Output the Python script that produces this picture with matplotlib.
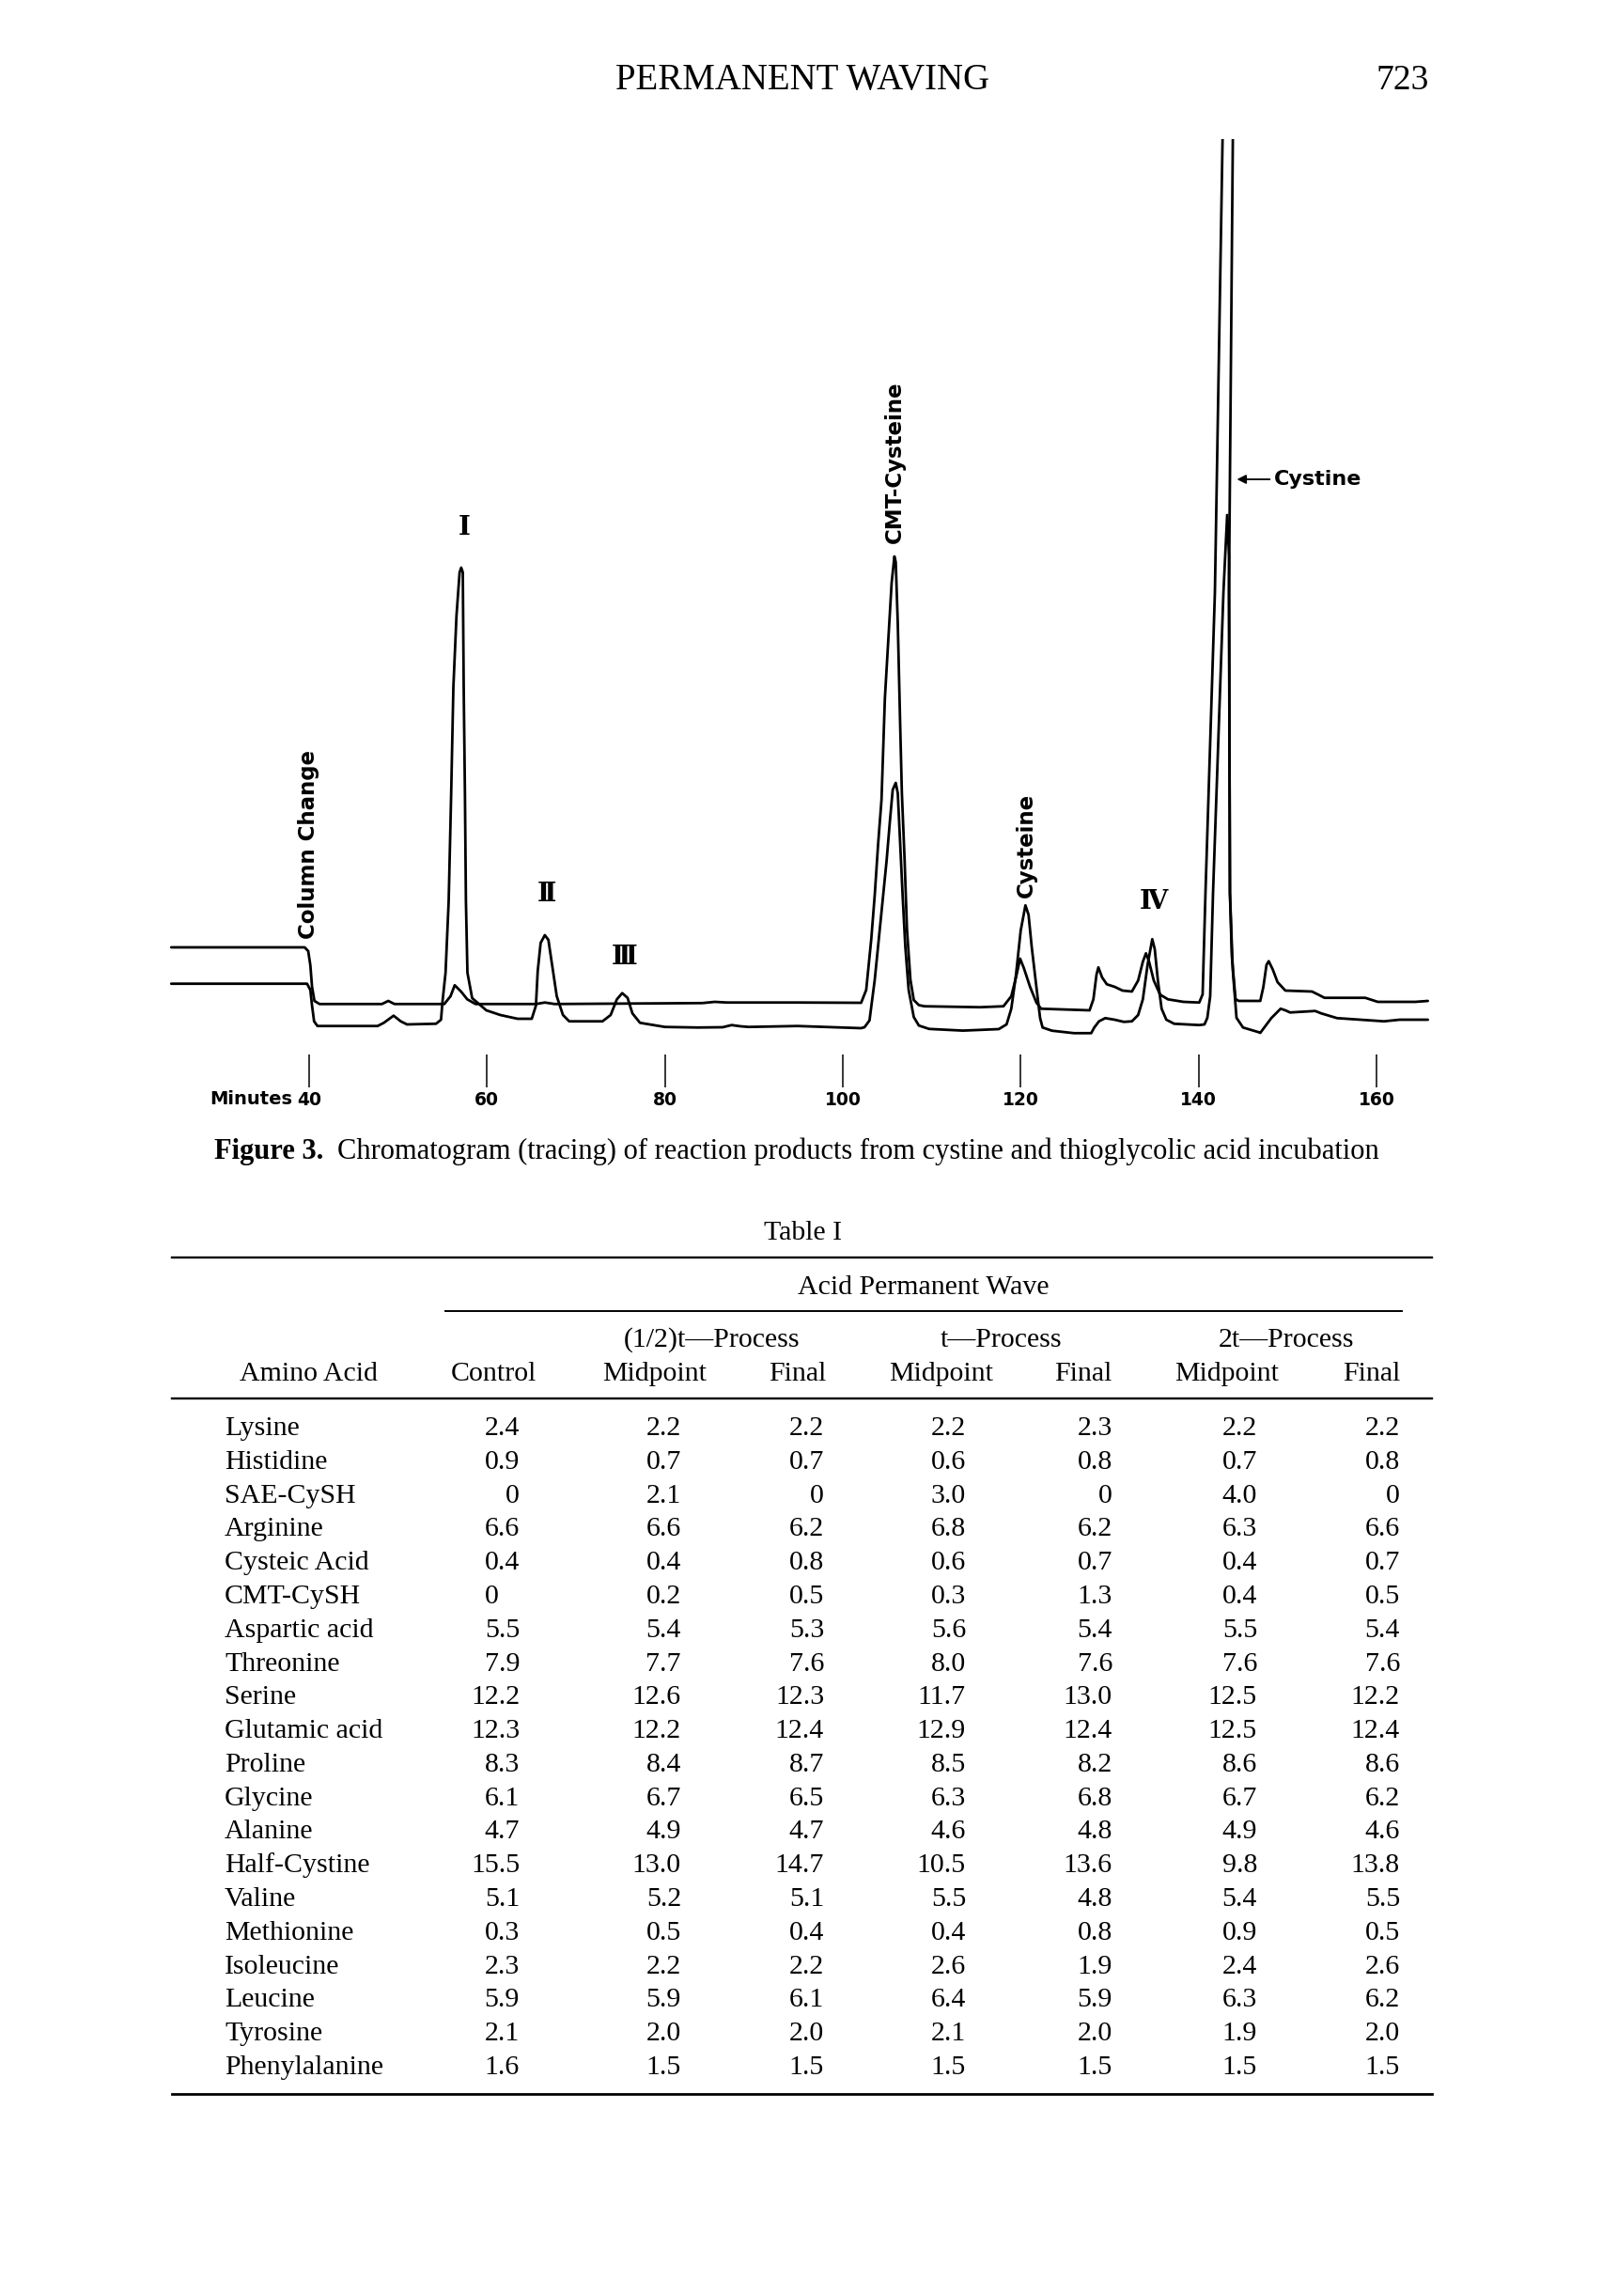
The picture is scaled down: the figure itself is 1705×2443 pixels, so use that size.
import matplotlib
matplotlib.use("Agg")
import matplotlib.pyplot as plt
from matplotlib.lines import Line2D

W, H = 1706, 2443
DPI = 100

# ---------------- chromatogram data (minutes, pen height) ----------------
trace_a_minutes = [24.5, 39.5, 39.9, 40.14, 40.33, 40.6, 41.17, 48.19, 48.9, 49.6,
                   55.2, 55.9, 56.37, 57.08, 57.78, 58.71, 65.5, 66.5, 67.6, 84.2,
                   85.6, 87.0, 94.9, 102.06, 102.63, 103.2, 103.59, 103.97, 104.35, 104.73,
                   105.11, 105.49, 105.8, 105.95, 106.18, 106.45, 106.64, 106.95, 107.21, 107.6,
                   107.98, 108.55, 109.19, 115.42, 118.06, 118.94, 119.47, 119.93, 120.35, 121.05,
                   121.76, 122.29, 127.74, 128.17, 128.52, 128.73, 129.15, 129.68, 130.56, 131.44,
                   132.5, 133.2, 133.73, 134.08, 134.43, 134.96, 135.67, 136.55, 138.3, 140.07,
                   140.45, 140.77, 141.83, 142.72, 143.3, 143.86, 143.41, 143.52, 143.73, 144.15,
                   144.5, 146.93, 147.28, 147.63, 147.88, 148.34, 148.87, 149.75, 152.74, 153.45,
                   154.15, 158.73, 160.14, 164.36, 165.77]
trace_a_height = [84, 84, 80, 65, 42, 27, 23.7, 23.7, 27, 23.7,
                  23.7, 32, 43.7, 37, 28.7, 23.7, 23.7, 25.3, 23.7, 24.7,
                  26, 25.3, 25.3, 25, 38.7, 92.9, 139.8, 194, 240.9, 349,
                  410.6, 472, 500, 494, 428.6, 320, 248, 176, 103.7, 49.5,
                  27.9, 22.5, 21.3, 20.3, 21.3, 32, 52, 72, 62, 42,
                  25.3, 18.7, 17, 28.7, 55, 62.7, 52, 44.7, 42, 38,
                  37, 48.7, 68.7, 77.7, 68.7, 48.7, 33.7, 28.7, 26, 25.3,
                  34, 142, 462, 960, 1100, 960, 462, 142, 75, 29,
                  27, 27, 42, 65.3, 69.3, 60.3, 47, 38, 37, 33.7,
                  30.3, 30.3, 26, 26, 27]

trace_b_minutes = [24.5, 39.77, 40.14, 40.33, 40.56, 40.94, 47.7, 48.4, 49.5, 50.3,
                   51.0, 54.27, 54.83, 55.0, 55.34, 55.69, 55.97, 56.22, 56.57, 56.92,
                   57.1, 57.28, 57.38, 57.52, 57.63, 57.8, 58.33, 59.92, 61.5, 63.44,
                   65.03, 65.5, 65.7, 66.03, 66.5, 66.9, 67.37, 67.84, 68.54, 69.24,
                   72.98, 73.9, 74.6, 75.2, 75.8, 76.35, 77.2, 80.0, 83.7, 86.5,
                   87.5, 88.5, 89.4, 94.9, 102.05, 102.44, 103.0, 103.59, 104.16, 104.54,
                   104.92, 105.3, 105.61, 105.95, 106.18, 106.45, 106.72, 107.02, 107.4, 107.98,
                   108.55, 109.7, 113.5, 117.53, 118.41, 118.94, 119.47, 120.0, 120.53, 120.88,
                   121.23, 121.76, 122.18, 122.46, 123.52, 125.98, 127.92, 128.27, 128.8, 129.5,
                   130.56, 131.6, 132.5, 133.2, 133.73, 134.26, 134.79, 135.07, 135.42, 135.84,
                   136.37, 137.25, 140.07, 140.66, 140.98, 141.3, 141.62, 142.79, 143.21, 143.42,
                   143.47, 143.52, 143.84, 144.26, 144.99, 146.76, 146.93, 148.17, 149.22, 149.75,
                   150.28, 153.1, 153.8, 155.56, 160.84, 162.6, 165.77]
trace_b_height = [45.3, 45.3, 38.7, 22, 5.3, 0.3, 0.3, 3.7, 11.3, 5.3,
                  2, 2.7, 7, 26.6, 57, 133, 247, 361, 437, 483,
                  488, 483, 361, 247, 133, 57, 30, 17, 12, 8,
                  8, 22, 58.7, 88.7, 97, 92, 62, 32, 12, 5.3,
                  5.3, 12, 28.7, 35.3, 30.3, 13.7, 3.7, -0.7, -1.3, -1,
                  1.3, 0, -0.7, 0.3, -2, -1, 6.2, 49.5, 103.7, 139.8,
                  176, 219, 251.7, 259, 248, 194, 140, 85.6, 38.7, 9.8,
                  0.8, -2.8, -4.6, -3, 2, 18.7, 55, 102, 128.7, 118.7,
                  85, 42, 8.7, -1.3, -4.7, -7.3, -7.3, -1.3, 5.3, 8.7,
                  7, 4.7, 5.3, 12, 28.7, 65.3, 92.7, 82, 48.7, 18.7,
                  7, 2.7, 1.3, 2, 9, 32, 142, 462, 544, 500,
                  300, 142, 60, 9, -1.3, -6.3, -7, 8.7, 18.7, 17,
                  14.7, 16.3, 13.7, 8.7, 5.3, 7, 7]

tick_minutes = [40, 60, 80, 100, 120, 140, 160]
tick_labels = ["40", "60", "80", "100", "120", "140", "160"]

# ---------------- Table I data ----------------
amino_acids = ["Lysine", "Histidine", "SAE-CySH", "Arginine", "Cysteic Acid", "CMT-CySH",
               "Aspartic acid", "Threonine", "Serine", "Glutamic acid", "Proline", "Glycine",
               "Alanine", "Half-Cystine", "Valine", "Methionine", "Isoleucine", "Leucine",
               "Tyrosine", "Phenylalanine"]
control = [2.4, 0.9, 0, 6.6, 0.4, 0, 5.5, 7.9, 12.2, 12.3, 8.3, 6.1, 4.7, 15.5, 5.1, 0.3, 2.3, 5.9, 2.1, 1.6]
half_t_midpoint = [2.2, 0.7, 2.1, 6.6, 0.4, 0.2, 5.4, 7.7, 12.6, 12.2, 8.4, 6.7, 4.9, 13.0, 5.2, 0.5, 2.2, 5.9, 2.0, 1.5]
half_t_final = [2.2, 0.7, 0, 6.2, 0.8, 0.5, 5.3, 7.6, 12.3, 12.4, 8.7, 6.5, 4.7, 14.7, 5.1, 0.4, 2.2, 6.1, 2.0, 1.5]
t_midpoint = [2.2, 0.6, 3.0, 6.8, 0.6, 0.3, 5.6, 8.0, 11.7, 12.9, 8.5, 6.3, 4.6, 10.5, 5.5, 0.4, 2.6, 6.4, 2.1, 1.5]
t_final = [2.3, 0.8, 0, 6.2, 0.7, 1.3, 5.4, 7.6, 13.0, 12.4, 8.2, 6.8, 4.8, 13.6, 4.8, 0.8, 1.9, 5.9, 2.0, 1.5]
two_t_midpoint = [2.2, 0.7, 4.0, 6.3, 0.4, 0.4, 5.5, 7.6, 12.5, 12.5, 8.6, 6.7, 4.9, 9.8, 5.4, 0.9, 2.4, 6.3, 1.9, 1.5]
two_t_final = [2.2, 0.8, 0, 6.6, 0.7, 0.5, 5.4, 7.6, 12.2, 12.4, 8.6, 6.2, 4.6, 13.8, 5.5, 0.5, 2.6, 6.2, 2.0, 1.5]
process_headers = ["(1/2)t\u2014Process", "t\u2014Process", "2t\u2014Process"]
column_headers = ["Amino Acid", "Control", "Midpoint", "Final", "Midpoint", "Final", "Midpoint", "Final"]

# ---------------- figure ----------------
fig = plt.figure(figsize=(W / DPI, H / DPI), dpi=DPI)
fig.patch.set_facecolor("white")


def fx(px):
    return px / W


def fy(py):
    return 1 - py / H


SERIF = ["Liberation Serif", "DejaVu Serif"]
SANS = ["DejaVu Sans"]

# page header
fig.text(fx(854), fy(86), "PERMANENT WAVING", family=SERIF, fontsize=28,
         ha="center", va="center")
fig.text(fx(1493), fy(86), "723", family=SERIF, fontsize=27, ha="center", va="center")

# chromatogram axes: 1 minute = 9.467 px, 1 height unit = 1 px
ax = fig.add_axes([177.5 / W, 1 - 1157 / H, 1353.8 / W, 1009 / H])
ax.set_xlim(24, 167)
ax.set_ylim(-65, 944)
ax.patch.set_alpha(0)
for s in ax.spines.values():
    s.set_visible(False)
ax.set_yticks([])
ax.set_xticks(tick_minutes, tick_labels)
ax.tick_params(axis="x", direction="in", length=25, width=1.1, pad=3,
               labelsize=13.5, color="black")
for lbl in ax.get_xticklabels():
    lbl.set_fontweight("bold")
    lbl.set_family(SANS)

ax.plot(trace_a_minutes, trace_a_height, color="black", lw=2.0,
        solid_joinstyle="round", solid_capstyle="round")
ax.plot(trace_b_minutes, trace_b_height, color="black", lw=2.0,
        solid_joinstyle="round", solid_capstyle="round")

fig.text(fx(311), fy(1160), "Minutes", family=SANS, fontweight="bold", fontsize=14,
         ha="right", va="top")

# peak labels
roman = dict(family=["DejaVu Serif", "DejaVu Sans"], fontweight="bold", fontsize=20,
             ha="center", va="center")
ax.text(57.4, 530, "I", **roman)
ax.text(66.7, 140, "\u2161", **roman)
ax.text(75.5, 73, "\u2162", **roman)
ax.text(134.9, 132, "\u2163", **roman)

lab = dict(family=SANS, fontweight="bold", fontsize=16.5, rotation=90,
           ha="center", va="bottom")
ax.text(40.0, 93, "Column Change", **lab)
ax.text(105.8, 514, "CMT-Cysteine", **lab)
ax.text(120.6, 137, "Cysteine", **lab)

ax.annotate("", xy=(144.3, 582), xytext=(148.0, 582),
            arrowprops=dict(arrowstyle="-|>", lw=1.3, color="black",
                            mutation_scale=14, shrinkA=0, shrinkB=0))
ax.text(148.5, 582, "Cystine", family=SANS, fontweight="bold", fontsize=16,
        ha="left", va="center")

# caption
renderer = fig.canvas.get_renderer()
cap1 = fig.text(fx(228), fy(1233), "Figure 3.", family=SERIF, fontweight="bold",
                fontsize=22, ha="left", va="baseline")
bb = cap1.get_window_extent(renderer=renderer)
fig.text(fx(bb.x1 + 15), fy(1233),
         "Chromatogram (tracing) of reaction products from cystine and thioglycolic acid incubation",
         family=SERIF, fontsize=22, ha="left", va="baseline")

# ---------------- Table I ----------------
TFS = 21.5
fig.text(fx(855), fy(1319), "Table I", family=SERIF, fontsize=TFS, ha="center", va="baseline")


def hrule(y, x0, x1, lw):
    fig.add_artist(Line2D([fx(x0), fx(x1)], [fy(y), fy(y)], transform=fig.transFigure,
                          color="black", lw=lw))


hrule(1338, 183, 1524, 1.7)
fig.text(fx(983), fy(1377), "Acid Permanent Wave", family=SERIF, fontsize=TFS,
         ha="center", va="baseline")
hrule(1395, 474, 1492, 1.4)
for txt, cx in zip(process_headers, [758, 1065, 1369]):
    fig.text(fx(cx), fy(1433), txt, family=SERIF, fontsize=TFS, ha="center", va="baseline")
for txt, cx in zip(column_headers, [328, 525, 697, 849, 1002, 1153, 1306, 1460]):
    fig.text(fx(cx), fy(1469), txt, family=SERIF, fontsize=TFS, ha="center", va="baseline")
hrule(1488, 183, 1524, 1.7)

columns = [control, half_t_midpoint, half_t_final, t_midpoint, t_final,
           two_t_midpoint, two_t_final]
col_right = [553, 725, 877, 1028, 1184, 1338, 1490]
left_aligned_cells = {(5, 0)}
row0, row_step = 1527, 35.79
for i, name in enumerate(amino_acids):
    yb = row0 + i * row_step
    fig.text(fx(239), fy(yb), name, family=SERIF, fontsize=TFS, ha="left", va="baseline")
    for j, col in enumerate(columns):
        v = col[i]
        s = "0" if v == 0 else f"{v:.1f}"
        if (i, j) in left_aligned_cells:
            fig.text(fx(col_right[j] - 37), fy(yb), s, family=SERIF, fontsize=TFS,
                     ha="left", va="baseline")
        else:
            fig.text(fx(col_right[j]), fy(yb), s, family=SERIF, fontsize=TFS,
                     ha="right", va="baseline")
hrule(2228, 183, 1524, 2.0)

fig.savefig("out.png", dpi=DPI, facecolor="white")
